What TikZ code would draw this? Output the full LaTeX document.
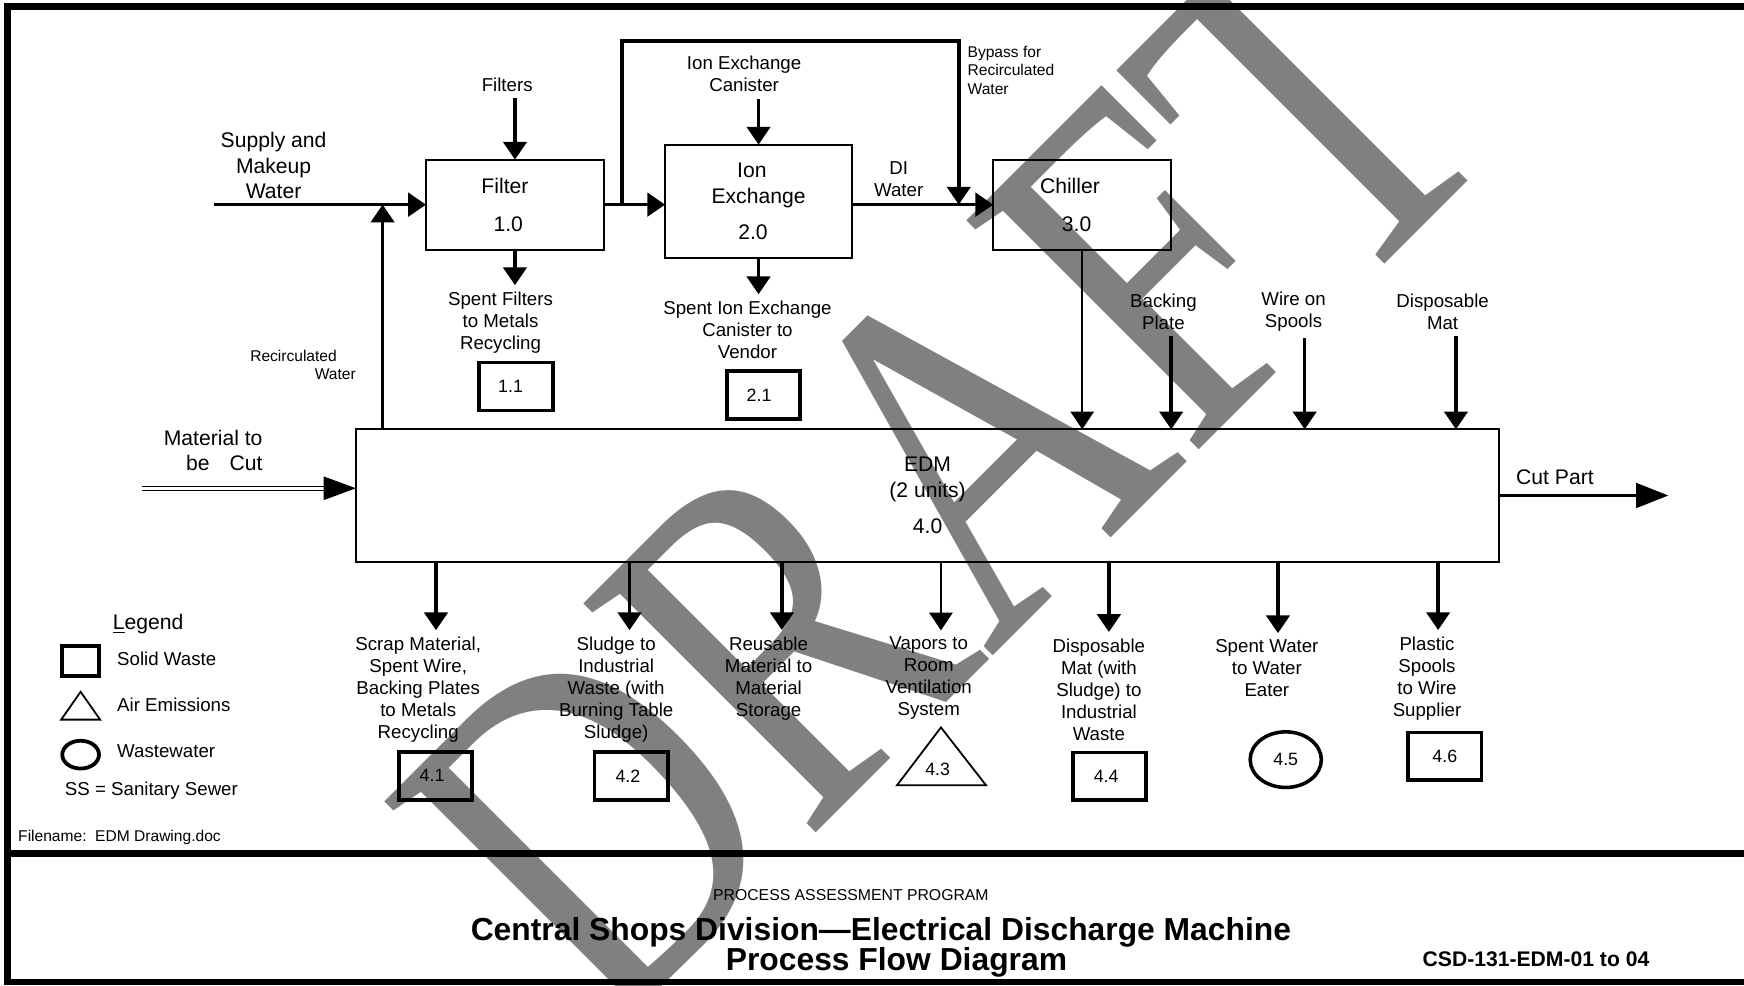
\documentclass[tikz,border=0pt]{standalone}
\usepackage{fontspec}
\setmainfont{Liberation Sans}
\newfontfamily\wmfont{Liberation Serif}
\usetikzlibrary{arrows.meta,shapes.geometric}
\definecolor{wmgray}{RGB}{128,128,128}
\newcommand\fbig{\fontsize{9.5}{11.5}\selectfont}
\newcommand\flab{\fontsize{8.4}{9.9}\selectfont}
\newcommand\fsml{\fontsize{7}{8.3}\selectfont}
\newcommand\fnum{\fontsize{8}{9.6}\selectfont}
\tikzset{
  proc/.style={draw, line width=0.9pt, inner sep=0pt, outer sep=0pt, align=center, font=\fbig},
  swb/.style={draw, line width=1.7pt, inner sep=0pt, outer sep=0pt, minimum width=33pt, minimum height=21.5pt, font=\fnum},
  lab/.style={inner sep=0pt, outer xsep=0pt, outer ysep=3pt, align=center, font=\flab},
  arr/.style={line width=1.6pt, -{Triangle[length=8pt,width=10.5pt]}},
  tarr/.style={line width=0.9pt, -{Triangle[length=8pt,width=10.5pt]}},
  barr/.style={line width=1.6pt, -{Triangle[length=14.5pt,width=11pt]}},
  dbl/.style={double, double distance=1.15pt, line width=0.65pt, -{Triangle[length=14.5pt,width=10.5pt]}},
  frame/.style={line width=3pt},
}
\begin{document}
\begin{tikzpicture}[x=0.5pt, y=-0.5pt]
\useasboundingbox (0,0) rectangle (1568,886);

% watermark
\begin{scope}
\clip (0,0) rectangle (1568,886);
\begin{scope}[shift={(848,426)}, rotate=45, yscale=1.28]
\node[transform shape, inner sep=0pt, text=wmgray, font=\wmfont\fontsize{175}{175}\selectfont] (wm) at (0,0) {DRAFT};
\end{scope}
\end{scope}

% frame
\draw[frame] (1568,6) -- (6.5,6) -- (6.5,883) -- (1568,883);
\draw[frame] (6.5,767.5) -- (1568,767.5);

% process boxes
\node[proc, minimum width=80pt, minimum height=40.5pt] (filter) at (463,184) {Filter\hspace*{9pt}\\[5.5pt]1.0\hspace*{6pt}};
\node[proc, minimum width=84pt, minimum height=51pt] (ion) at (682,181) {Ion\hspace*{6pt}\\Exchange\hspace*{15pt}\\[4.5pt]2.0\hspace*{5pt}};
\node[proc, minimum width=80pt, minimum height=40.5pt] (chiller) at (973,184) {Chiller\hspace*{11pt}\\[5.5pt]3.0\hspace*{5pt}};
\node[proc, minimum width=514pt, minimum height=59.5pt] (edm) at (834,445.5) {EDM\\(2 units)\hspace*{8pt}\\[5pt]4.0};

% labels top
\node[lab] (fl) at (456,76) {Filters};
\node[lab, font=\fbig] (supl) at (246,149) {Supply and\\Makeup\\Water};
\node[lab, font=\fsml, align=left, anchor=west] (rcl) at (225,328) {Recirculated\\\hspace*{29pt}Water};
\node[lab] (sfl) at (450,290) {Spent Filters\\to Metals\\Recycling};
\node[swb] (n11) at (464,347.5) {1.1\hspace*{5pt}};
\node[lab] (icl) at (669,66.5) {Ion Exchange\\Canister};
\node[lab] (sil) at (672,296.5) {Spent Ion Exchange\\Canister to\\Vendor};
\node[swb] (n21) at (686.5,355) {2.1\hspace*{4pt}};
\node[lab, font=\fsml, align=left, anchor=west] (bpl) at (870,63) {Bypass for\\Recirculated\\Water};
\node[lab] (dil) at (808,161.5) {DI\\Water};
\node[lab] (bkl) at (1046,280) {Backing\\Plate};
\node[lab] (wsl) at (1163,280) {Wire on\\Spools};
\node[lab] (dml) at (1297,280) {Disposable\\Mat};
\node[lab, font=\fbig, align=right, anchor=east] (mcl) at (236,405) {Material to\\be\hspace{9pt}Cut};
\node[lab, font=\fbig] (cpl) at (1398,429) {Cut Part};

% labels bottom
\node[lab] (o1l) at (376,620) {Scrap Material,\\Spent Wire,\\Backing Plates\\to Metals\\Recycling};
\node[lab] (o2l) at (554,620) {Sludge to\\Industrial\\Waste (with\\Burning Table\\Sludge)};
\node[lab] (o3l) at (691,610) {Reusable\\Material to\\Material\\Storage};
\node[lab] (o4l) at (835,610) {Vapors to\\Room\\Ventilation\\System};
\node[lab] (o5l) at (988,620) {Disposable\\Mat (with\\Sludge) to\\Industrial\\Waste};
\node[lab] (o6l) at (1139,601) {Spent Water\\to Water\\Eater};
\node[lab] (o7l) at (1283,610) {Plastic\\Spools\\to Wire\\Supplier};

% waste markers
\node[swb] (n41) at (391.5,697.5) {4.1\hspace*{3pt}};
\node[swb] (n42) at (567.5,697.5) {4.2\hspace*{3pt}};
\node[font=\fnum, inner sep=0pt] (n43) at (843,692) {4.3};
\draw[line width=0.8pt] (846,654) -- (886.5,706) -- (806.5,706) -- cycle;
\node[swb] (n44) at (997.5,698) {4.4\hspace*{3pt}};
\node[ellipse, draw, line width=1.6pt, minimum width=32pt, minimum height=25pt, inner sep=0pt, font=\fnum] (n45) at (1156,683) {4.5};
\node[swb] (n46) at (1299,680) {4.6};

% legend
\node[font=\fbig, anchor=west, inner sep=0pt] (leg) at (101,561) {\underline{L}egend};
\node[draw, line width=1.7pt, minimum width=16.5pt, minimum height=13.5pt, inner sep=0pt] (lsq) at (72.5,594.5) {};
\node[anchor=west, font=\flab, inner sep=0pt] (lsw) at (105,592.5) {Solid Waste};
\draw[line width=0.8pt] (72.5,622) -- (90,647) -- (55,647) -- cycle;
\node[anchor=west, font=\flab, inner sep=0pt] (lae) at (105,634) {Air Emissions};
\node[ellipse, draw, line width=1.7pt, minimum width=16.5pt, minimum height=12.5pt, inner sep=0pt] (lel) at (72.5,678.5) {};
\node[anchor=west, font=\flab, inner sep=0pt] (lww) at (105,675) {Wastewater};
\node[anchor=west, font=\flab, inner sep=0pt] (lss) at (58,711) {SS = Sanitary Sewer};
\node[anchor=west, font=\fsml, inner sep=0pt] (fn) at (16,753) {Filename:\ \ EDM Drawing.doc};

% title block
\node[font=\fontsize{7.1}{8}\selectfont, inner sep=0pt] (pap) at (765,805) {PROCESS ASSESSMENT PROGRAM};
\node[font=\bfseries\fontsize{14.3}{13.5}\selectfont, align=center, inner sep=0pt] (ttl) at (792,851.5) {Central Shops Division—Electrical Discharge Machine\\\hspace*{14pt}Process Flow Diagram};
\node[font=\bfseries\fontsize{9.5}{11}\selectfont, inner sep=0pt] (csd) at (1381,862) {CSD-131-EDM-01 to 04};

% coordinates
\coordinate (sups) at (192,184);
\coordinate (rcj) at (344,184);
\coordinate (bpa) at (559,184);
\coordinate (bpt1) at (559,37);
\coordinate (bpt2) at (862,37);
\coordinate (bpb) at (862,184);
\coordinate (in2) at (1053,386);
\coordinate (in3) at (1173,386);
\coordinate (in4) at (1309,386);
\coordinate (mcs) at (128,439);
\coordinate (edmin) at (320,439);
\coordinate (cpe) at (1500,445.5);
\coordinate (o1) at (392,505);
\coordinate (o2) at (566,505);
\coordinate (o3) at (703,505);
\coordinate (o4) at (846,505);
\coordinate (o5) at (997,505);
\coordinate (o6) at (1149,505);
\coordinate (o7) at (1293,505);

% connectors
\draw[arr] (sups) -- (filter.west);
\draw[arr] (rcj |- edm.north) -- (rcj);
\draw[arr] (fl.south -| filter.north) -- (filter.north);
\draw[arr] (filter.south) -- (filter.south |- sfl.north);
\draw[arr] (filter.east) -- (filter.east -| ion.west);
\draw[arr] (bpa) -- (bpt1) -- (bpt2) -- (bpb);
\draw[arr] (icl.south -| ion.north) -- (ion.north);
\draw[arr] (ion.south) -- (ion.south |- sil.north);
\draw[arr] (ion.east |- chiller.west) -- (chiller.west);
\draw[tarr] (chiller.south) -- (chiller.south |- edm.north);
\draw[arr] (bkl.south -| in2) -- (in2);
\draw[arr] (wsl.south -| in3) -- (in3);
\draw[arr] (dml.south -| in4) -- (in4);
\draw[dbl] (mcs) -- (edmin);
\draw[barr] (edm.east) -- (cpe);
\draw[arr] (o1) -- (o1 |- o1l.north);
\draw[arr] (o2) -- (o2 |- o2l.north);
\draw[arr] (o3) -- (o3 |- o3l.north);
\draw[tarr] (o4) -- (o4 |- o4l.north);
\draw[arr] (o5) -- (o5 |- o5l.north);
\draw[arr] (o6) -- (o6 |- o6l.north);
\draw[arr] (o7) -- (o7 |- o7l.north);
\end{tikzpicture}
\end{document}
